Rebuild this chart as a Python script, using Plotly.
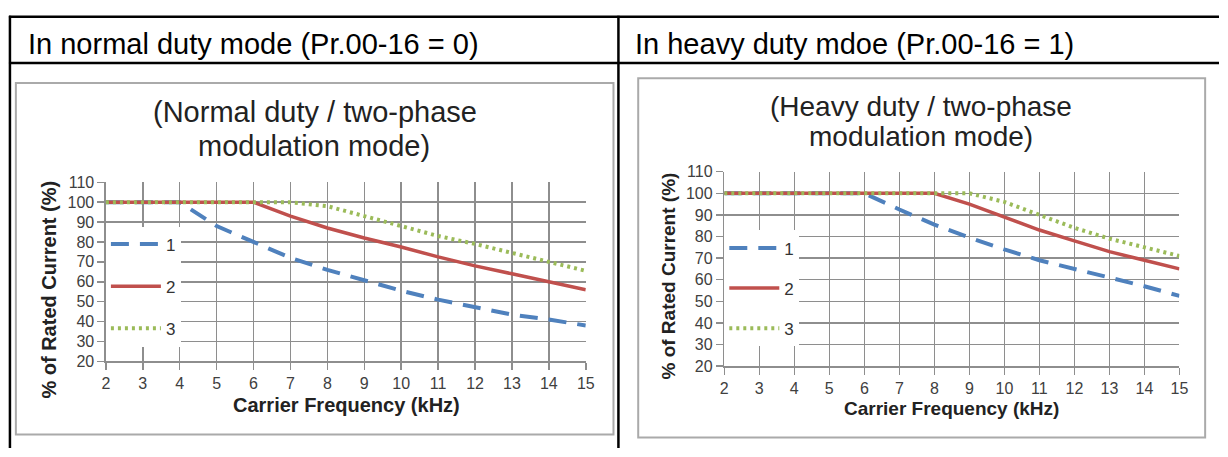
import plotly.graph_objects as go

W, H = 1228, 457

# ---------------- data ----------------
freq_khz = [2, 3, 4, 5, 6, 7, 8, 9, 10, 11, 12, 13, 14, 15]
series_names = ["1", "2", "3"]

normal_1 = [100, 100, 100, 88, 80, 72, 66, 60.5, 55.5, 51, 47.5, 43.5, 41, 38]
normal_2 = [100, 100, 100, 100, 100, 93, 87, 82, 77.5, 72.5, 68, 64, 60, 56]
normal_3 = [100, 100, 100, 100, 100, 100, 98, 93, 88, 83, 79, 74.5, 70, 65.5]

heavy_1 = [100, 100, 100, 100, 100, 92.5, 85.5, 79.5, 74, 69, 65, 61, 57, 52.5]
heavy_2 = [100, 100, 100, 100, 100, 100, 100, 95, 89, 83, 78, 73, 69, 65]
heavy_3 = [100, 100, 100, 100, 100, 100, 100, 100, 96, 90, 84, 79, 75, 71]

y_ticks = [20, 30, 40, 50, 60, 70, 80, 90, 100, 110]

header_left = "In normal duty mode (Pr.00-16 = 0)"
header_right = "In heavy duty mdoe (Pr.00-16 = 1)"
title_left = ["(Normal duty / two-phase", "modulation mode)"]
title_right = ["(Heavy duty / two-phase", "modulation mode)"]
x_title = "Carrier Frequency (kHz)"
y_title = "% of Rated Current (%)"

# ---------------- styles ----------------
FONT = "Liberation Sans, Arial, sans-serif"
colors = ["#4f81bd", "#c0504d", "#9bbb59"]
dashes = ["18px,11px", "solid", "3px,4px"]
widths = [4, 3.5, 4]
GRID = "#8e8e8e"
TICK_COLOR = "#404040"


def px(x):
    return x / W


def py(y):
    return 1 - y / H


fig = go.Figure()

panels = [
    ("x", "y", "legend", [normal_1, normal_2, normal_3]),
    ("x2", "y2", "legend2", [heavy_1, heavy_2, heavy_3]),
]
for xa, ya, lg, data in panels:
    for i, vals in enumerate(data):
        fig.add_trace(go.Scatter(
            x=freq_khz, y=vals, name=series_names[i], mode="lines",
            line=dict(color=colors[i], width=widths[i], dash=dashes[i]),
            xaxis=xa, yaxis=ya, legend=lg, legendgroup=lg + series_names[i],
            hoverinfo="skip",
        ))

axis_common = dict(
    showgrid=True, gridcolor=GRID, gridwidth=1.5,
    showline=True, linecolor=GRID, linewidth=1.5,
    ticks="outside", ticklen=7, tickcolor=GRID, tickwidth=1.5,
    tickfont=dict(family=FONT, size=16, color=TICK_COLOR),
    zeroline=False, fixedrange=True,
)

fig.update_layout(
    width=W, height=H,
    margin=dict(l=0, r=0, t=0, b=0),
    paper_bgcolor="white", plot_bgcolor="white",
    showlegend=True,
    xaxis=dict(domain=[px(103), px(588)], range=[2, 15], dtick=1, tick0=2,
               anchor="y", **axis_common),
    yaxis=dict(domain=[py(367), py(181)], range=[20, 110], tickvals=y_ticks,
               anchor="x", **axis_common),
    xaxis2=dict(domain=[px(728), px(1188)], range=[2, 15], dtick=1, tick0=2,
                anchor="y2", **axis_common),
    yaxis2=dict(domain=[py(372), py(170)], range=[20, 110], tickvals=y_ticks,
                anchor="x2", **axis_common),
    legend=dict(x=px(103), y=py(227), xanchor="left", yanchor="top",
                bgcolor="white", borderwidth=0, traceorder="grouped",
                tracegroupgap=17, itemwidth=50,
                font=dict(family=FONT, size=17, color="#333333")),
    legend2=dict(x=px(728), y=py(231), xanchor="left", yanchor="top",
                 bgcolor="white", borderwidth=0, traceorder="grouped",
                 tracegroupgap=15, itemwidth=50,
                 font=dict(family=FONT, size=17, color="#333333")),
)

shapes = []
# chart frames
shapes.append(dict(type="rect", xref="paper", yref="paper",
                   x0=px(12), x1=px(616), y0=py(443), y1=py(78),
                   line=dict(color="#aaaaaa", width=2), layer="below"))
shapes.append(dict(type="rect", xref="paper", yref="paper",
                   x0=px(641), x1=px(1214), y0=py(446), y1=py(73),
                   line=dict(color="#aaaaaa", width=2), layer="below"))
# table lines
for yy in (9, 57):
    shapes.append(dict(type="line", xref="paper", yref="paper",
                       x0=px(5), x1=1, y0=py(yy), y1=py(yy),
                       line=dict(color="black", width=2.5)))
for xx in (6, 621):
    shapes.append(dict(type="line", xref="paper", yref="paper",
                       x0=px(xx), x1=px(xx), y0=py(8), y1=0,
                       line=dict(color="black", width=2.5)))
fig.update_layout(shapes=shapes)


def note(text, x, y, size, color="#222222", bold=False, angle=0, xanchor="center"):
    f = dict(family=FONT, size=size, color=color)
    if bold:
        f["weight"] = "bold"
    return dict(text=text, x=px(x), y=py(y), xref="paper", yref="paper",
                xanchor=xanchor, yanchor="middle", showarrow=False,
                textangle=angle, font=f)


ann = [
    note(header_left, 22, 37, 29, "black", xanchor="left"),
    note(header_right, 636, 37, 29, "black", xanchor="left"),
    note(title_left[0], 314, 108, 29),
    note(title_left[1], 313, 143, 29),
    note(title_right[0], 927, 102, 28),
    note(title_right[1], 927, 133, 28),
    note(x_title, 346, 412, 20, bold=True),
    note(x_title, 958, 416, 19, bold=True),
    note(y_title, 46, 293, 20, bold=True, angle=-90),
    note(y_title, 672, 278, 19, bold=True, angle=-90),
]
fig.update_layout(annotations=ann)

page_css = (
    "var b=document.body,h=document.documentElement;"
    "[b,h].forEach(function(e){e.style.margin='0';e.style.padding='0';"
    "e.style.overflow='hidden';e.style.height='457px';});"
    "b.style.lineHeight='0';b.style.fontSize='0';"
)

fig.write_html(
    "out.html",
    config={"displayModeBar": False, "staticPlot": True},
    post_script=page_css,
)
